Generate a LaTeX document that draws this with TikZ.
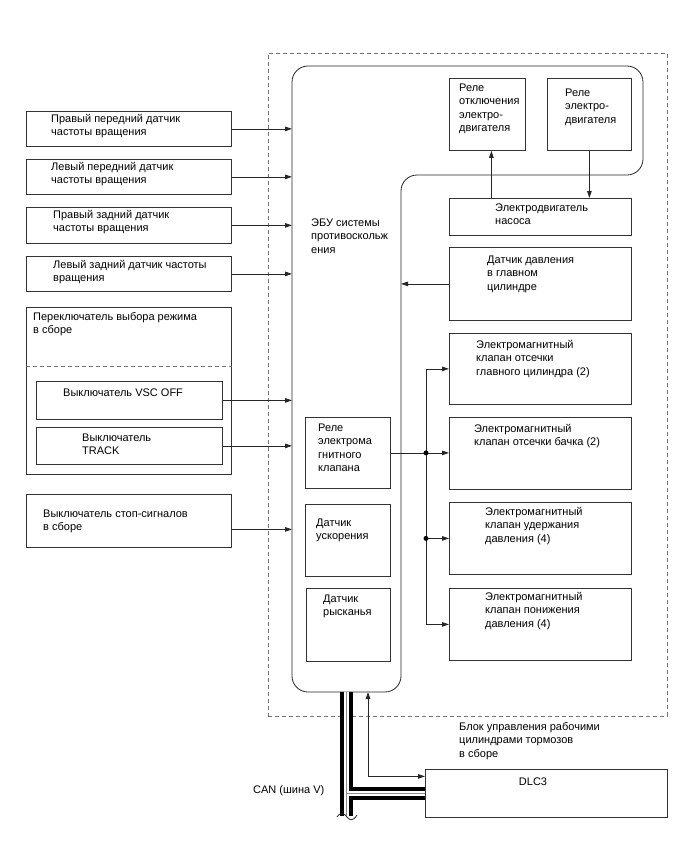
\documentclass[tikz,border=0pt]{standalone}
\usepackage{fontspec}
\setmainfont{Liberation Sans}
\usetikzlibrary{arrows.meta}
\tikzset{
  blk/.style={draw=black!80, line width=0.8pt, anchor=north west, inner sep=0pt},
  txt/.style={anchor=base west, align=left, inner sep=0pt, font=\fontsize{11}{13.5}\selectfont},
  frm/.style={draw=black!55, line width=0.8pt, dash pattern=on 4pt off 3pt},
  wire/.style={draw=black!85, line width=0.8pt},
  dot/.style={circle, fill=black, inner sep=0pt, minimum size=5pt},
}
\begin{document}
\begin{tikzpicture}[x=1pt, y=-1pt, >={Triangle[length=7pt,width=4.5pt]}]
    \useasboundingbox (0,0) rectangle (688,852);

    % Outer dashed frame of the brake actuator assembly
    \node[blk, frm, minimum width=399, minimum height=663] (act) at (268,53) {};

    % ECU outline (text nodes sit on the baseline of their last line)
    \draw[wire, rounded corners=16] (292,692) -- (292,66) -- (643,66) -- (643,175)
        -- (401,175) -- (401,692) -- cycle;
    \coordinate (ecuL) at (292,0);
    \coordinate (ecuR) at (401,0);
    \coordinate (diag) at (368,692);
    \coordinate (can) at (346.5,692);
    \coordinate (canend) at (346.5,816);
    \node[txt] (ecu-t) at (311,253) {ЭБУ системы\\противоскольж\\ения};

    % Wheel speed sensors
    \node[blk, minimum width=205, minimum height=35] (wfr) at (26,111) {};
    \node[txt] (wfr-t) at (51,135.5) {Правый передний датчик\\частоты вращения};
    \node[blk, minimum width=205, minimum height=35] (wfl) at (26,159) {};
    \node[txt] (wfl-t) at (51,183.5) {Левый передний датчик\\частоты вращения};
    \node[blk, minimum width=205, minimum height=36] (wrr) at (26,207) {};
    \node[txt] (wrr-t) at (53,231.5) {Правый задний датчик\\частоты вращения};
    \node[blk, minimum width=205, minimum height=35] (wrl) at (26,256) {};
    \node[txt] (wrl-t) at (53,281.5) {Левый задний датчик частоты\\вращения};

    % Mode select switch assembly
    \node[blk, minimum width=205, minimum height=167] (modesw) at (26,307) {};
    \node[txt] (modesw-t) at (33,333.5) {Переключатель выбора режима\\в сборе};
    \draw[frm] (modesw.west |- 0,366) -- (modesw.east |- 0,366);
    \node[blk, minimum width=186, minimum height=38] (vsc) at (36,381) {};
    \node[txt] (vsc-t) at (63,396) {Выключатель VSC OFF};
    \node[blk, minimum width=186, minimum height=37] (track) at (36,427) {};
    \node[txt] (track-t) at (82,454.5) {Выключатель\\TRACK};

    % Stop light switch
    \node[blk, minimum width=205, minimum height=53] (stopsw) at (26,494) {};
    \node[txt] (stopsw-t) at (43,530.5) {Выключатель стоп-сигналов\\в сборе};

    % Inputs into the ECU
    \foreach \n in {wfr,wfl,wrr,wrl,vsc,track}
        \draw[wire, ->] (\n.east) -- (\n.east -| ecuL);
    \draw[wire, ->] ([yshift=-8.5]stopsw.east) -- ([yshift=-8.5]stopsw.east -| ecuL);

    % Motor relays and pump motor
    \node[blk, minimum width=76, minimum height=72] (cutrly) at (449,78) {};
    \node[txt] (cutrly-t) at (459,131.5) {Реле\\отключения\\электро-\\двигателя};
    \node[blk, minimum width=84, minimum height=72] (motrly) at (547,78) {};
    \node[txt] (motrly-t) at (565,123) {Реле\\электро-\\двигателя};
    \node[blk, minimum width=182, minimum height=37] (pump) at (449,198) {};
    \node[txt] (pump-t) at (495,224.5) {Электродвигатель\\насоса};
    \draw[wire, ->] ([xshift=4]cutrly.south |- pump.north) -- ([xshift=4]cutrly.south);
    \draw[wire, ->] (motrly.south) -- (motrly.south |- pump.north);

    % Master cylinder pressure sensor
    \node[blk, minimum width=182, minimum height=73] (mcs) at (449,247) {};
    \node[txt] (mcs-t) at (487,290) {Датчик давления\\в главном\\цилиндре};
    \draw[wire, ->] (mcs.west) -- (mcs.west -| ecuR);

    % Solenoid valves
    \node[blk, minimum width=182, minimum height=71] (smc) at (449,333) {};
    \node[txt] (smc-t) at (476,375) {Электромагнитный\\клапан отсечки\\главного цилиндра (2)};
    \node[blk, minimum width=182, minimum height=72] (ssr) at (449,417) {};
    \node[txt] (ssr-t) at (474,445.5) {Электромагнитный\\клапан отсечки бачка (2)};
    \node[blk, minimum width=182, minimum height=72] (shold) at (449,502) {};
    \node[txt] (shold-t) at (485,542) {Электромагнитный\\клапан удержания\\давления (4)};
    \node[blk, minimum width=182, minimum height=72] (sred) at (449,588) {};
    \node[txt] (sred-t) at (485,627) {Электромагнитный\\клапан понижения\\давления (4)};

    % Parts inside the ECU
    \node[blk, minimum width=85, minimum height=71] (solrly) at (305,417) {};
    \node[txt] (solrly-t) at (318,471.5) {Реле\\электрома\\гнитного\\клапана};
    \node[blk, minimum width=85, minimum height=72] (accel) at (305,504) {};
    \node[txt] (accel-t) at (316,539.5) {Датчик\\ускорения};
    \node[blk, minimum width=84, minimum height=73] (yaw) at (306,588) {};
    \node[txt] (yaw-t) at (323,615.5) {Датчик\\рысканья};

    % Solenoid relay feeding the valves
    \coordinate (bus) at (426,0);
    \draw[wire, ->] (solrly.east) -- (solrly.east -| ssr.west);
    \draw[wire, ->] (bus |- sred.west) -- (bus |- smc.west) -- (smc.west);
    \draw[wire, ->] (bus |- shold.west) -- (shold.west);
    \draw[wire, ->] (bus |- sred.west) -- (sred.west);
    \node[dot] (j1) at (bus |- solrly.east) {};
    \node[dot] (j2) at (bus |- shold.west) {};

    \node[txt] (act-t) at (459,757) {Блок управления рабочими\\цилиндрами тормозов\\в сборе};

    % DLC3 and CAN bus
    \node[blk, minimum width=242, minimum height=48] (dlc) at (425,769) {};
    \node[txt, anchor=base] (dlc-t) at (533,785) {DLC3};
    \draw[wire, <->] (diag) |- ([yshift=17]dlc.west);
    \foreach \w/\c in {13/black, 5/white, 1/black!45}
        \draw[line width=\w pt, \c, line cap=butt] (can) -- (canend) (can |- dlc.west) -- (dlc.west);
    \draw[wire] (337,817) .. controls (341,811) and (345,814) .. (347,817)
        .. controls (349,820) and (353,822) .. (357,815);
    \node[txt] (can-t) at (253,793) {CAN (шина V)};
\end{tikzpicture}
\end{document}
